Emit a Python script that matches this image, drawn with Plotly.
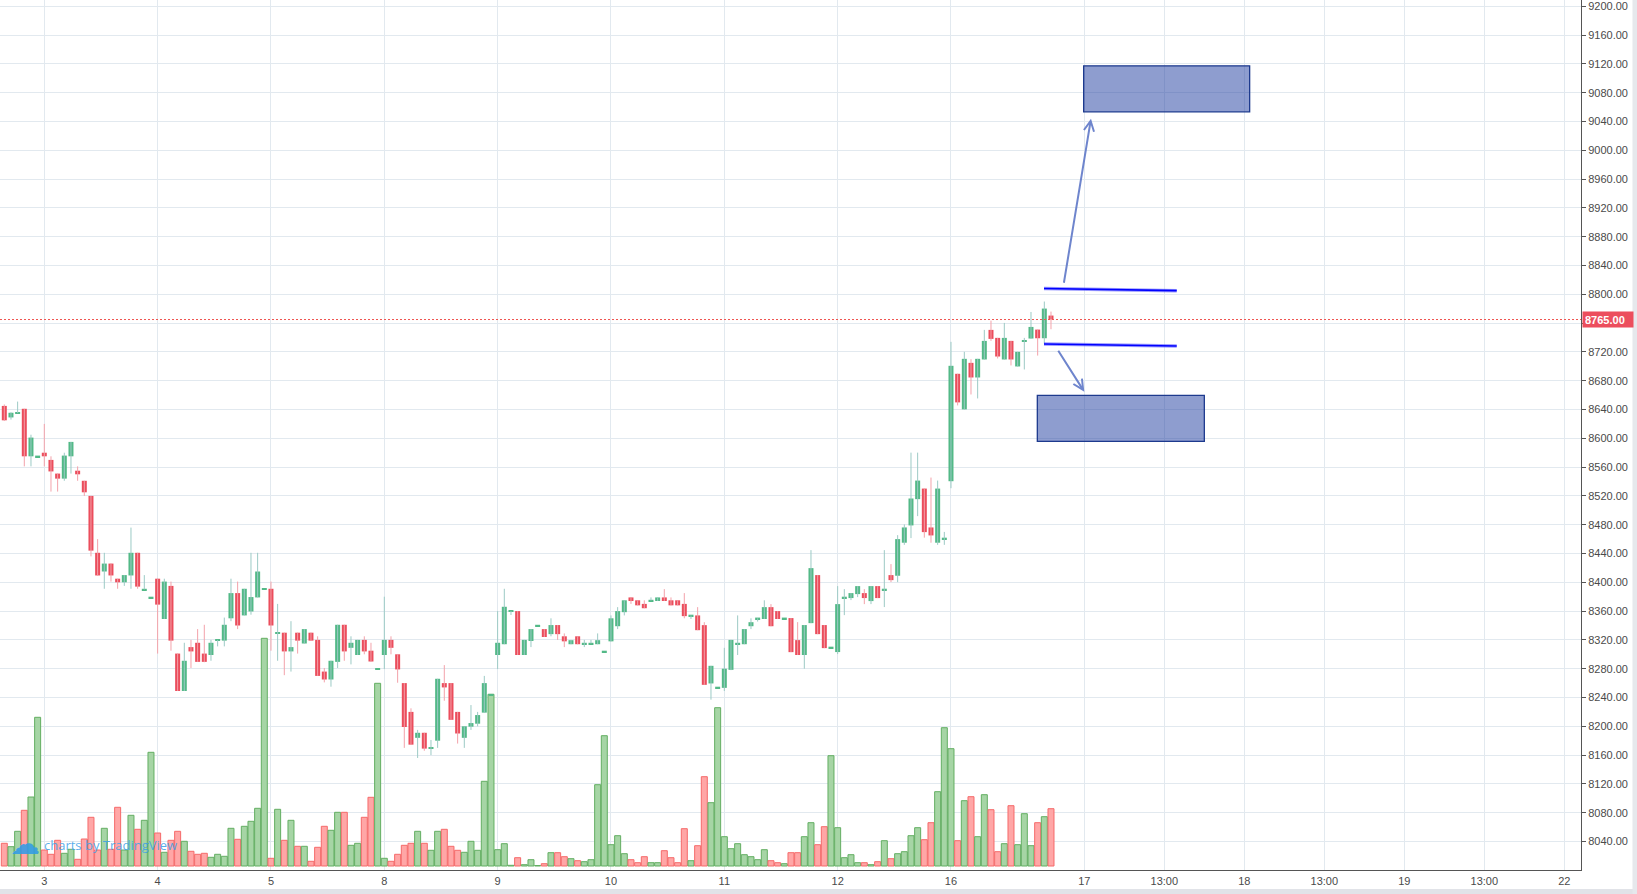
import plotly.graph_objects as go

# ---------------- data ----------------
opens = [8645, 8629, 8635, 8641, 8575, 8575, 8580, 8570, 8551, 8544, 8575, 8555, 8541, 8520, 8441, 8415, 8426, 8405, 8400, 8409.5,
         8441, 8390, 8379, 8405, 8349, 8395, 8301, 8249, 8310, 8316, 8301, 8299, 8320, 8319, 8350, 8385, 8354, 8359.5, 8379, 8391,
         8391, 8329.5, 8330, 8304, 8330, 8315, 8330, 8320, 8276, 8265, 8289.5, 8341, 8309, 8299, 8320, 8305, 8279.5, 8299, 8320, 8300,
         8260, 8220, 8184, 8191, 8169.5, 8180, 8260, 8260, 8220, 8184, 8199.5, 8203.6, 8219, 8244, 8299, 8314, 8360, 8360, 8299, 8318.5,
         8340, 8335, 8328, 8340.6, 8325, 8314, 8325, 8315, 8315, 8314, 8304, 8318, 8339, 8358.5, 8379, 8375, 8370, 8374.7, 8374, 8379,
         8375, 8375, 8370, 8354, 8354, 8340.5, 8259.5, 8254, 8253.4, 8278.4, 8315, 8314, 8339, 8350, 8349, 8365.5, 8360, 8350, 8350.3, 8319.7,
         8299, 8343.3, 8410, 8340.6, 8309.6, 8303.1, 8379, 8378.1, 8383.6, 8385, 8373.9, 8394.7, 8390.1, 8410, 8409.1, 8455, 8479, 8515.5, 8530.2, 8476.2,
         8455, 8461, 8540.4, 8689.6, 8640.2, 8704.8, 8684.5, 8709.5, 8750.6, 8739.5, 8709.5, 8735.3, 8699.8, 8734.9, 8738.6, 8751, 8739, 8770.5]
highs = [8647, 8636, 8651, 8641, 8605, 8575, 8620, 8575, 8551, 8580, 8595, 8561, 8541, 8520, 8460, 8441, 8426, 8405, 8410, 8476,
         8441, 8410, 8379, 8405, 8405, 8401, 8301, 8316, 8320, 8335, 8341, 8320, 8320, 8351, 8405, 8401, 8391, 8441, 8441, 8391,
         8401, 8370, 8330, 8346, 8330, 8335, 8330, 8325, 8281, 8291, 8341, 8341, 8325, 8320, 8325, 8316, 8279.5, 8380, 8325, 8300,
         8260, 8225, 8195, 8191, 8181, 8266, 8285, 8260, 8220, 8200, 8229.5, 8220, 8270, 8244, 8360, 8391, 8360, 8360, 8320, 8335,
         8340, 8335, 8350, 8340.6, 8329, 8320, 8325, 8320, 8320, 8329, 8304, 8354, 8365.5, 8375, 8379, 8375, 8375, 8379, 8379, 8390.5,
         8379, 8375, 8385, 8354, 8365.5, 8344.6, 8284, 8254, 8309, 8320, 8354, 8335, 8350, 8350, 8375, 8369.7, 8360, 8350, 8350.3, 8344.7,
         8340.6, 8444.7, 8410, 8340.6, 8309.6, 8394.7, 8390.5, 8385, 8394.7, 8390.5, 8394.7, 8394.7, 8444.7, 8425.3, 8465.5, 8480.4, 8580.1, 8580.1, 8530.2, 8545.5,
         8541.3, 8470, 8734, 8689.6, 8720.1, 8709.9, 8710.4, 8750.6, 8763.5, 8739.5, 8760.3, 8735.3, 8720.1, 8739.5, 8775.5, 8751, 8790, 8776]
lows = [8624, 8626, 8635, 8561, 8561, 8575, 8561, 8526, 8526, 8541, 8551, 8541, 8520, 8436, 8409, 8391, 8401, 8391, 8395, 8391,
        8391, 8390, 8379, 8301, 8349, 8305, 8249, 8249, 8281, 8289.5, 8289, 8291, 8311, 8311, 8346, 8335, 8354, 8355, 8379, 8391,
        8305, 8291, 8271, 8276, 8301, 8315, 8319, 8270, 8261, 8255, 8281, 8291, 8286, 8299, 8300, 8290, 8279.5, 8279.5, 8300, 8260.5,
        8170, 8174, 8156, 8166, 8160, 8170, 8235.5, 8209, 8176, 8170, 8195, 8200, 8219, 8244, 8279.5, 8314, 8354.6, 8299, 8299, 8310,
        8340, 8324, 8325, 8320, 8310, 8314, 8314, 8310, 8315, 8314, 8304, 8318, 8335, 8354, 8370, 8368, 8364, 8374.7, 8374, 8374,
        8368, 8368, 8350, 8349, 8333.5, 8257.6, 8237, 8254, 8249, 8278, 8299, 8314, 8335, 8345.5, 8349, 8339, 8349, 8350, 8303, 8299,
        8280, 8343.3, 8328, 8308.6, 8309.6, 8300.3, 8354.4, 8375.3, 8379.4, 8369.7, 8369.7, 8378.1, 8365.6, 8400.3, 8400.3, 8452, 8461.4, 8491.9, 8462, 8455,
        8452, 8452, 8530.7, 8645.7, 8640.2, 8660.9, 8655.4, 8709.5, 8735.3, 8710.9, 8709.5, 8701.2, 8699.8, 8695.6, 8738.6, 8714.9, 8731.5, 8751.5]
closes = [8625, 8635.5, 8635, 8575, 8601, 8575, 8575, 8554, 8544, 8576, 8595, 8550, 8525, 8444, 8409.5, 8426, 8409.5, 8400, 8410, 8441,
          8394, 8390, 8379, 8369, 8401, 8319, 8249, 8291, 8304, 8289.5, 8289.5, 8316, 8320, 8341, 8385, 8340, 8391, 8379.5, 8415, 8391,
          8340, 8329.5, 8304, 8310, 8319, 8335, 8319, 8270, 8265, 8291, 8341, 8304, 8316, 8320, 8304, 8290, 8279.5, 8320, 8309, 8279,
          8199, 8174.5, 8191, 8169, 8169.5, 8266, 8254, 8209, 8190, 8200, 8204.5, 8215.6, 8260, 8244, 8316, 8366, 8360, 8299, 8320, 8335,
          8340, 8324, 8340.6, 8328, 8318, 8319.6, 8314, 8315, 8315, 8319.6, 8304, 8350, 8360, 8375, 8374, 8368, 8364, 8374.7, 8379, 8374,
          8368, 8368, 8353, 8354, 8333.5, 8257.6, 8284, 8254, 8280, 8320, 8315, 8335, 8344.6, 8350, 8365.5, 8339, 8349, 8350, 8303, 8299,
          8340.6, 8419.7, 8328, 8308.6, 8309.6, 8369.7, 8379, 8385, 8394.7, 8378.1, 8394.7, 8378.1, 8390.1, 8403, 8460, 8476.2, 8516.4, 8541.3, 8469.7, 8465.1,
          8530.2, 8461, 8700.7, 8649.9, 8710.4, 8684.5, 8710.4, 8735.3, 8738.1, 8713.6, 8739.5, 8709.5, 8720.1, 8734.9, 8754.7, 8739, 8780.2, 8765]
volumes = [227, 193, 347, 557, 690, 1487, 160, 117, 257, 127, 167, 67, 270, 487, 160, 377, 167, 587, 160, 507,
           367, 457, 1137, 330, 137, 257, 347, 247, 147, 117, 127, 87, 117, 97, 377, 267, 397, 447, 577, 2277,
           77, 567, 257, 457, 197, 197, 47, 187, 397, 357, 537, 537, 207, 227, 487, 687, 1827, 77, 47, 117,
           207, 227, 347, 227, 157, 347, 367, 197, 157, 137, 247, 157, 847, 1717, 163, 223, 7, 83, 13, 63,
           5, 23, 133, 133, 93, 73, 53, 43, 63, 813, 1303, 213, 303, 123, 63, 33, 93, 33, 33, 153,
           83, 33, 373, 53, 203, 893, 633, 1583, 293, 173, 223, 113, 93, 63, 163, 53, 33, 23, 133, 133,
           293, 433, 213, 393, 1103, 383, 83, 113, 33, 33, 13, 43, 253, 73, 123, 143, 303, 383, 263, 433,
           743, 1383, 1173, 253, 653, 693, 293, 713, 563, 143, 223, 603, 213, 523, 203, 433, 493, 573]

tick_pos = [6, 23, 40, 57, 74, 91, 108, 125, 142, 162, 174, 186, 198, 210, 222, 234]
tick_labels = ['3', '4', '5', '8', '9', '10', '11', '12', '16', '17', '13:00', '18', '13:00', '19', '13:00', '22']
price_ticks = list(range(8040, 9201, 40))
last_price = 8765.0

# drawings (bar index, price)
level_high = [(155.95, 8808.0), (175.86, 8805.1)]
level_low = [(155.95, 8731.1), (175.86, 8728.2)]
target_up = (161.9, 186.8, 9053.5, 9117.4)
target_down = (154.95, 180.0, 8595.8, 8659.7)
arrow_up = ((158.9, 8814.0), (163.0, 9044.0))
arrow_down = ((157.95, 8723.6), (162.0, 8664.7))

# ---------------- styling ----------------
UP_BODY, DOWN_BODY = '#53b987', '#eb4d5c'
UP_WICK, DOWN_WICK = '#9ccac5', '#f3a2aa'
VOL_UP_FILL, VOL_UP_LINE = '#a6d5a5', '#63ae62'
VOL_DN_FILL, VOL_DN_LINE = '#ffa6a6', '#f56a6a'
GRID = '#e2e9ef'
AXIS = '#555555'
TEXT = '#4a4a4a'

n = len(opens)
bar_index = list(range(n))
is_up = [c >= o for o, c in zip(opens, closes)]

fig = go.Figure()

# volume (primary hidden axis, drawn below)
fig.add_trace(go.Bar(
    x=bar_index, y=volumes, yaxis='y', width=0.9,
    marker=dict(color=[VOL_UP_FILL if u else VOL_DN_FILL for u in is_up],
                line=dict(color=[VOL_UP_LINE if u else VOL_DN_LINE for u in is_up], width=1)),
    hoverinfo='skip'))

# wicks
for flag, col in ((True, UP_WICK), (False, DOWN_WICK)):
    xs, ys = [], []
    for i in bar_index:
        if is_up[i] == flag:
            xs += [i, i, None]
            ys += [lows[i], highs[i], None]
    fig.add_trace(go.Scatter(x=xs, y=ys, yaxis='y2', mode='lines',
                             line=dict(color=col, width=1), hoverinfo='skip'))

# bodies
MIN_BODY = 2.0
heights = [max(abs(c - o), MIN_BODY) for o, c in zip(opens, closes)]
bases = [min(o, c) - (h - abs(c - o)) / 2 for o, c, h in zip(opens, closes, heights)]
fig.add_trace(go.Bar(
    x=bar_index, y=heights, base=bases, yaxis='y2', width=0.75,
    marker=dict(color=[UP_BODY if u else DOWN_BODY for u in is_up], line=dict(width=0)),
    hoverinfo='skip'))

shapes = []
# last price dotted line
shapes.append(dict(type='line', xref='paper', x0=0, x1=1, yref='y2', y0=last_price, y1=last_price,
                   line=dict(color='#ef5350', width=1, dash='2px,2px')))
# target boxes
for (x0, x1, y0, y1) in (target_up, target_down):
    shapes.append(dict(type='rect', xref='x', yref='y2', x0=x0, x1=x1, y0=y0, y1=y1,
                       fillcolor='rgba(30,60,160,0.5)', line=dict(color='#1d3a8e', width=1.3)))
# level lines
for lv in (level_high, level_low):
    shapes.append(dict(type='line', xref='x', yref='y2', x0=lv[0][0], y0=lv[0][1], x1=lv[1][0], y1=lv[1][1],
                       line=dict(color='rgba(70,70,255,0.55)', width=3.5)))
    shapes.append(dict(type='line', xref='x', yref='y2', x0=lv[0][0], y0=lv[0][1], x1=lv[1][0], y1=lv[1][1],
                       line=dict(color='#0000ff', width=1.6)))
# page strips
shapes.append(dict(type='rect', xref='paper', yref='paper', x0=0, x1=1637 / 1581, y0=-24 / 870, y1=-19 / 870,
                   fillcolor='#e1e3e8', line=dict(width=0), layer='above'))
shapes.append(dict(type='rect', xref='paper', yref='paper', x0=1632.5 / 1581, x1=1637 / 1581, y0=-24 / 870, y1=1,
                   fillcolor='#e6e8ec', line=dict(width=0), layer='above'))

annotations = []
for (tail, head) in (arrow_up, arrow_down):
    annotations.append(dict(x=head[0], y=head[1], xref='x', yref='y2',
                            ax=tail[0], ay=tail[1], axref='x', ayref='y2',
                            text='', showarrow=True, arrowhead=5, arrowsize=1.0, arrowwidth=2,
                            arrowcolor='rgba(95,120,200,0.9)', standoff=0))
# last price label (covers the 8760 axis label, as in the reference)
annotations.append(dict(xref='paper', x=1, xanchor='left', xshift=1, yref='y2', y=last_price, yanchor='middle',
                        text='<b>8765.00</b>', showarrow=False, bgcolor='#ec4e5d', borderpad=2,
                        width=46, height=11, align='left',
                        font=dict(color='white', size=11, family='Liberation Sans, Arial, sans-serif')))
# watermark
annotations.append(dict(xref='paper', yref='paper', x=42 / 1581, y=25 / 870, xanchor='left', yanchor='middle',
                        text='charts by TradingView', showarrow=False,
                        font=dict(color='rgba(60,160,230,0.85)', size=13, family='Open Sans, Liberation Sans, sans-serif')))
annotations.append(dict(xref='paper', yref='paper', x=25 / 1581, y=27 / 870, xanchor='center', yanchor='middle',
                        text='\u2601', showarrow=False,
                        font=dict(color='rgba(50,155,230,0.9)', size=30, family='DejaVu Sans')))

price_text = ['' if p == 8760 else f'{p:.2f}' for p in price_ticks]

fig.update_layout(
    width=1637, height=894,
    margin=dict(l=0, r=56, t=0, b=24),
    paper_bgcolor='white', plot_bgcolor='white',
    showlegend=False, barmode='overlay', hovermode=False,
    font=dict(family='Liberation Sans, Arial, sans-serif', size=11, color=TEXT),
    xaxis=dict(range=[-0.645, 236.5], tickvals=tick_pos, ticktext=tick_labels,
               showgrid=True, gridcolor=GRID, gridwidth=1, zeroline=False,
               showline=True, linecolor=AXIS, linewidth=1,
               ticks='outside', ticklen=1, tickcolor='rgba(0,0,0,0)', fixedrange=True),
    yaxis=dict(range=[-40, 8660], visible=False, showgrid=False, zeroline=False, fixedrange=True),
    yaxis2=dict(overlaying='y', side='right', range=[8000.4, 9208.8],
                tickvals=price_ticks, ticktext=price_text,
                showgrid=True, gridcolor=GRID, gridwidth=1, zeroline=False,
                showline=True, linecolor=AXIS, linewidth=1,
                ticks='outside', ticklen=4, tickcolor=AXIS, fixedrange=True),
    shapes=shapes, annotations=annotations,
)

fig.write_html("out.html", config={'displayModeBar': False},
               post_script="document.body.style.margin='0';document.body.style.overflow='hidden';")
